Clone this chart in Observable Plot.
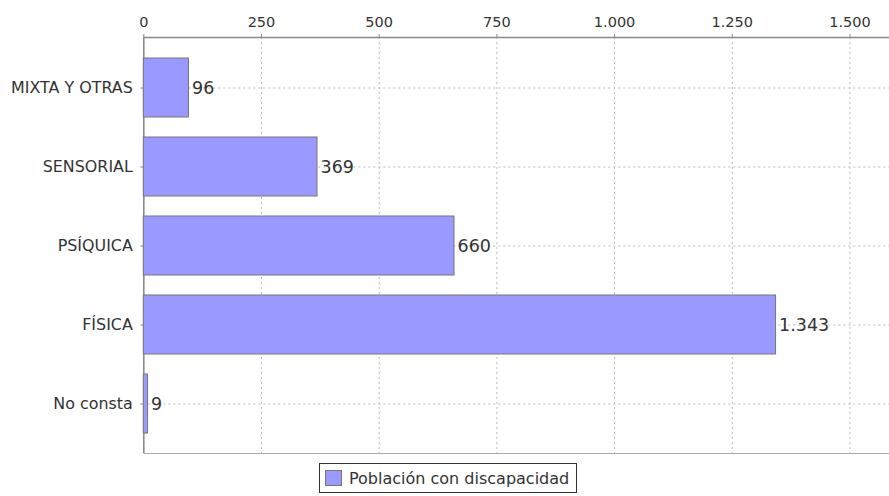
<!DOCTYPE html>
<html><head><meta charset="utf-8">
<script src="https://cdn.jsdelivr.net/npm/d3@7"></script>
<script src="https://cdn.jsdelivr.net/npm/@observablehq/plot@0.6"></script>
<style>
body{margin:0;background:#fff;font-family:"DejaVu Sans",sans-serif;}
#legend{position:absolute;left:319px;top:463px;height:30px;border:1px solid #333;display:flex;align-items:center;padding:0 6px 0 5px;font-size:16px;color:#333;box-sizing:border-box;width:258px;white-space:nowrap;}
#legend span.sw{display:inline-block;width:17px;height:16px;background:#9999ff;border:1px solid #777;box-sizing:border-box;margin-right:7px;}
</style></head><body>
<div id="chart"></div>
<div id="legend"><span class="sw"></span>Población con discapacidad</div>
<script>
const categories = ["MIXTA Y OTRAS", "SENSORIAL", "PSÍQUICA", "FÍSICA", "No consta"];
const values = [96, 369, 660, 1343, 9];
const xTicks = [0, 250, 500, 750, 1000, 1250, 1500];
const seriesName = "Población con discapacidad";

const data = categories.map((c, i) => ({cat: c, v: values[i]}));
const fmt = d3.formatLocale({decimal: ",", thousands: ".", grouping: [3], currency: ["", ""]}).format(",");

const W = 889, H = 458, pTop = 37, pBottom = 453, pLeft = 143.3, xMax = 1584;
const chart = Plot.plot({
  width: W, height: H,
  marginTop: pTop, marginBottom: H - pBottom, marginLeft: pLeft, marginRight: 0,
  style: {fontFamily: "DejaVu Sans, sans-serif", fontSize: "15px", color: "#333", background: "#fff"},
  x: {domain: [0, xMax], range: [pLeft, W], label: null},
  y: {domain: categories, range: [47, 444], paddingInner: 0.257, paddingOuter: 0.1285, label: null},
  marks: [
    Plot.ruleX(xTicks, {stroke: "#bbb", strokeDasharray: "2,3"}),
    Plot.gridY(categories, {x1: 0, x2: xMax, stroke: "#bbb", strokeOpacity: 1, strokeDasharray: "2,3"}),
    Plot.frame({anchor: "bottom", stroke: "#aaa"}),
    Plot.frame({anchor: "top", stroke: "#888", strokeWidth: 1.5}),
    Plot.ruleX([0], {stroke: "#888", strokeWidth: 1.5}),
    Plot.axisX(xTicks, {anchor: "top", tickFormat: fmt, tickSize: 4, tickPadding: 7, stroke: "#888", fill: "#333", fontSize: 14.5, label: null}),
    Plot.axisY({anchor: "left", tickSize: 3, tickPadding: 8, stroke: "#888", fill: "#333", fontSize: 15.9, label: null}),
    Plot.barX(data, {x: "v", y: "cat", fill: "#9999ff", stroke: "#777", strokeWidth: 1}),
    Plot.text(data, {x: "v", y: "cat", text: d => fmt(d.v), textAnchor: "start", dx: 3, fontSize: 17.5, fill: "#333"})
  ]
});
document.getElementById("chart").appendChild(chart);
</script>
</body></html>
